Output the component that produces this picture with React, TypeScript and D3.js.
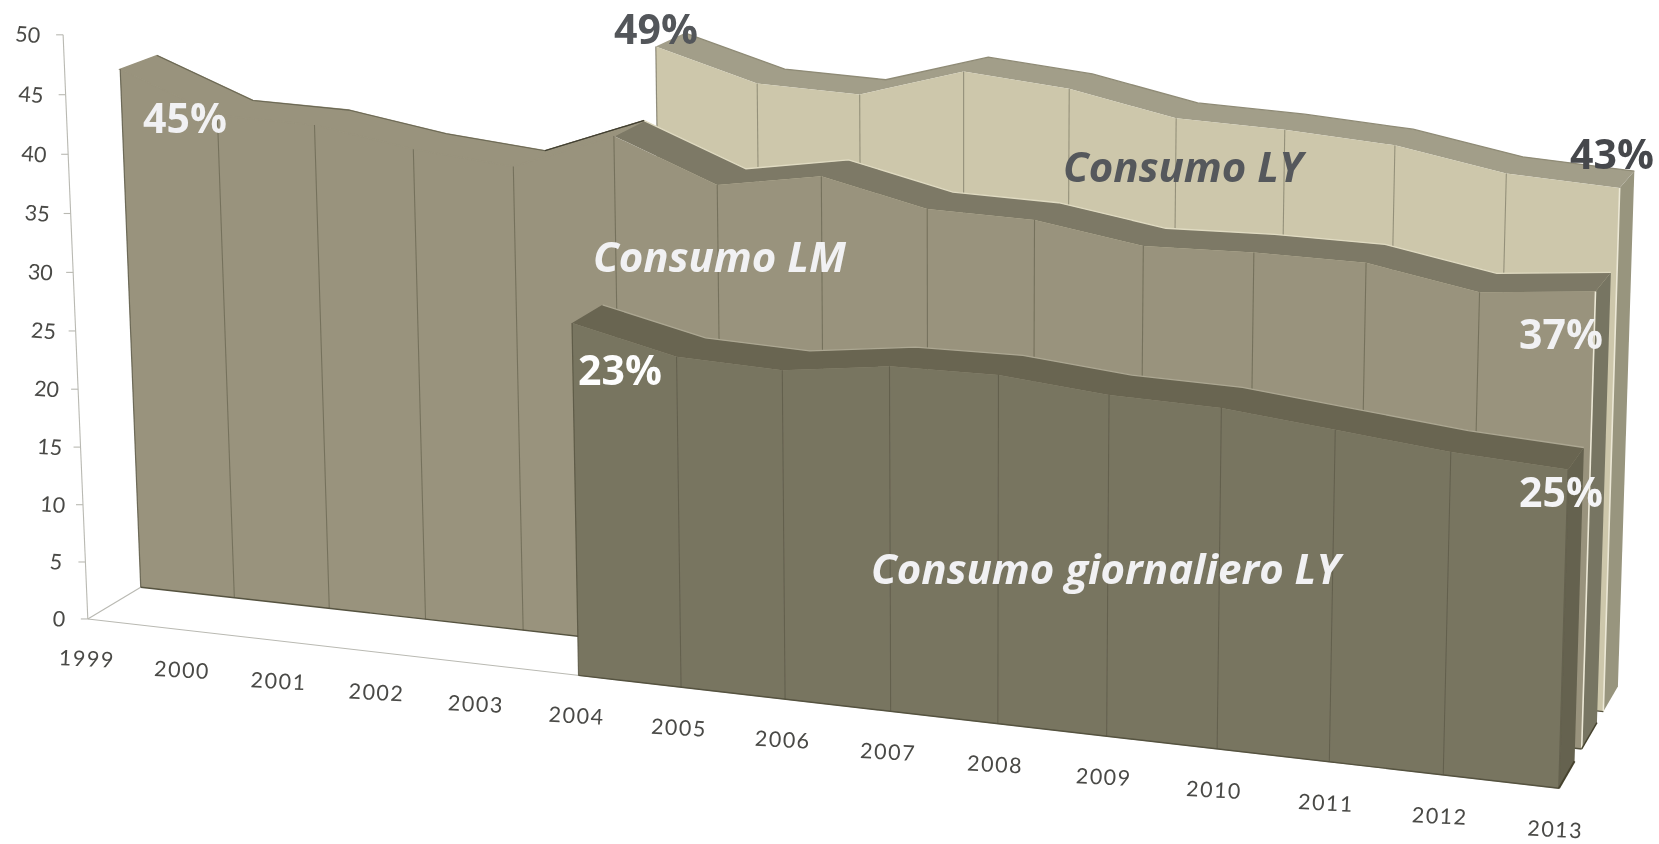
import React from "react";
import * as d3 from "d3";

// ---------- data ----------
const years = [1999, 2000, 2001, 2002, 2003, 2004, 2005, 2006, 2007, 2008, 2009, 2010, 2011, 2012, 2013];
const yTicks = [0, 5, 10, 15, 20, 25, 30, 35, 40, 45, 50];

const yearsLY = years.slice(5);
const valuesLY = [48.6, 46.1, 45.8, 48.3, 47.5, 45.7, 45.4, 44.8, 43.2, 42.7];

const yearsLM = years;
const valuesLM = [45.4, 42.1, 41.9, 40.5, 39.7, 42.9, 39.5, 40.9, 38.9, 38.7, 37.3, 37.5, 37.4, 35.8, 36.6];

const yearsGiornaliero = years.slice(5);
const valuesGiornaliero = [29.5, 27.5, 27.2, 28.3, 28.4, 27.6, 27.4, 26.5, 25.6, 25.1];

const percentLabels = ["49%", "43%", "45%", "37%", "23%", "25%"];
const seriesNames = ["Consumo LY", "Consumo LM", "Consumo giornaliero LY"];

// ---------- 3D projection (year, value, depth) -> screen ----------
const W = 1659;
const H = 844;
const K = W / 1568;
const yearIndex = d3.scaleLinear().domain([1999, 2013]).range([0, 14]);

function project(year: number, value: number, depth: number): [number, number] {
  const X = yearIndex(year);
  const w = 1 - 0.00707 * X - 0.00055 * value + 0.0225 * depth;
  const sx = (83 + 88.9 * X - 0.5 * value + 53 * depth) / w;
  const sy = (585 + 6.16 * X - 11.06 * value - 17.5 * depth) / w;
  return [sx * K, sy * K];
}

const line = d3.line<[number, number]>();
const closed = (pts: [number, number][]) => line(pts) + "Z";

type Layer = {
  xs: number[];
  vs: number[];
  z0: number;
  z1: number;
  face: string;
  ribbon: string;
  side: string;
  grid: string;
  ribbonFrom: number;
  edge: string;
  back: string;
};

const layers: Layer[] = [
  { xs: yearsLY, vs: valuesLY, z0: 2, z1: 2.7, face: "#cdc7ab", ribbon: "#a29e89", side: "#98957e", grid: "#7d7a66", ribbonFrom: 2004, edge: "#ece8d6", back: "#8f8b76" },
  { xs: yearsLM, vs: valuesLM, z0: 1, z1: 1.7, face: "#99937d", ribbon: "#7d7966", side: "#777562", grid: "#66634f", ribbonFrom: 2004, edge: "#ece8d6", back: "#e0dbc2" },
  { xs: yearsGiornaliero, vs: valuesGiornaliero, z0: 0, z1: 0.68, face: "#787561", ribbon: "#696551", side: "#65624f", grid: "#5b5846", ribbonFrom: 2004, edge: "#65624f", back: "#aca792" },
];

function LayerView({ l, idx }: { l: Layer; idx: number }) {
  const n = l.xs.length;
  const first = l.xs[0];
  const last = l.xs[n - 1];
  const lastV = l.vs[n - 1];
  const frontTop = l.xs.map((x, i) => project(x, l.vs[i], l.z0));
  const backTop = l.xs.map((x, i) => project(x, l.vs[i], l.z1));
  const rib = l.xs.map((x, i) => i).filter((i) => l.xs[i] >= l.ribbonFrom);
  const early = l.xs.map((x, i) => i).filter((i) => l.xs[i] <= l.ribbonFrom);
  const late = l.xs.map((x, i) => i).filter((i) => l.xs[i] >= 2003 && l.xs[i] <= l.ribbonFrom);
  return (
    <g>
      {/* right side */}
      <path
        d={closed([project(last, 0, l.z0), project(last, lastV, l.z0), project(last, lastV, l.z1), project(last, 0, l.z1)])}
        fill={l.side}
      />
      {/* top surface */}
      <path d={closed([...rib.map((i) => frontTop[i]), ...rib.slice().reverse().map((i) => backTop[i])])} fill={l.ribbon} />
      {/* back highlight */}
      <path d={line(rib.map((i) => backTop[i]))!} fill="none" stroke={l.back} strokeWidth={1.3} />
      {/* front face */}
      <path d={closed([project(first, 0, l.z0), ...frontTop, project(last, 0, l.z0)])} fill={l.face} />
      {/* early part of the top surface, same tone as the face */}
      {early.length > 1 && (
        <path
          d={closed([...early.map((i) => frontTop[i]), ...early.slice().reverse().map((i) => backTop[i])])}
          fill={l.face}
          stroke={l.face}
          strokeWidth={1.5}
        />
      )}
      {early.length > 1 && <path d={line(early.map((i) => backTop[i]))!} fill="none" stroke="#6b6854" strokeWidth={1.1} />}
      {late.length > 1 && <path d={line(late.map((i) => backTop[i]))!} fill="none" stroke="#3f3d30" strokeWidth={1.2} />}
      {/* column lines */}
      {l.xs.map((x, i) => {
        if (i === n - 1) return null;
        if (i === 0) return <path key={x} d={line([project(x, 0, l.z0), frontTop[i]])!} stroke="#55523f" strokeWidth={1.2} opacity={idx === 0 ? 0.6 : 0.8} />;
        return <path key={x} d={line([project(x, 0, l.z0), frontTop[i]])!} stroke={l.grid} strokeWidth={1.1} opacity={0.7} />;
      })}
      {/* right edge sliver */}
      <path d={line([project(last, 0, l.z0), frontTop[n - 1]])!} stroke={l.edge} strokeWidth={1.6} />
      {/* floor edge */}
      <path d={line([project(first, 0, l.z0), project(last, 0, l.z0)])!} stroke="#55523f" strokeWidth={1.4} />
      {idx === 2 && <path d={line([project(last, 0, l.z0), project(last, 0, l.z1)])!} stroke="#46432f" strokeWidth={2} />}
      {idx === 1 && <path d={line([project(last, 0, l.z0), project(last, 0, l.z1)])!} stroke="#46432f" strokeWidth={1.5} />}
    </g>
  );
}

const sansBold: React.CSSProperties = { fontFamily: "'Open Sans', sans-serif", fontWeight: 700 };

export default function App() {
  const y0 = 1999;
  return (
    <svg width={W} height={H} viewBox={`0 0 ${W} ${H}`} style={{ position: "absolute", left: 0, top: 0, background: "#fff" }}>
      <defs>
        <filter id="soft" filterUnits="userSpaceOnUse" x="0" y="0" width={W} height={H}>
          <feGaussianBlur stdDeviation="0.6" />
        </filter>
        <filter id="softer" filterUnits="userSpaceOnUse" x="0" y="0" width={W} height={H}>
          <feGaussianBlur stdDeviation="0.35" />
        </filter>
      </defs>
      {/* axes */}
      <g stroke="#b9b9b2" fill="none" strokeWidth={1.1}>
        <path d={line([project(y0, 0, 0), project(y0, 50, 0)])!} />
        <path d={line([project(y0, 0, 0), project(2013, 0, 0)])!} />
        <path d={line([project(y0, 0, 0), project(y0, 0, 1)])!} />
        {yTicks.map((t) => {
          const p = project(y0, t, 0);
          return <path key={t} d={line([[p[0] - 7, p[1]], p])!} />;
        })}
      </g>
      <g filter="url(#softer)">
        {yTicks.map((t) => {
          const p = project(y0, t, 0);
          const tx = p[0] - 29 - t * 0.13;
          const ty = p[1] + 2;
          return (
            <text key={t} x={tx} y={ty} textAnchor="middle" dominantBaseline="middle" fontFamily="Lato, sans-serif" fontWeight={400} fontSize={21.5} fill="#4a4a46" transform={`rotate(4 ${tx} ${ty})`}>
              {t}
            </text>
          );
        })}
        {years.map((y) => {
          const p = project(y, 0, 0);
          const tx = p[0] - 1 - yearIndex(y) * 0.2;
          const ty = p[1] + 42 + yearIndex(y) * 0.1;
          return (
            <text key={y} x={tx} y={ty} textAnchor="middle" dominantBaseline="middle" fontFamily="Lato, sans-serif" fontWeight={400} fontSize={21.5} letterSpacing={1.5} fill="#4a4a46" transform={`rotate(3 ${tx} ${ty})`}>
              {y}
            </text>
          );
        })}
      </g>

      <g filter="url(#soft)">
        {layers.map((l, i) => (
          <LayerView key={i} l={l} idx={i} />
        ))}
      </g>

      {/* percentage labels */}
      <g style={sansBold} fontSize={41} textAnchor="middle" dominantBaseline="middle">
        <text x={656} y={33} fill="#53565a">{percentLabels[0]}</text>
        <text x={1612} y={158} fill="#46484c">{percentLabels[1]}</text>
        <text x={185} y={122} fill="#f1f1f3">{percentLabels[2]}</text>
        <text x={1561} y={338} fill="#f1f1f3">{percentLabels[3]}</text>
        <text x={620} y={374} fill="#fdfdfd">{percentLabels[4]}</text>
        <text x={1561} y={496} fill="#f4f4f6">{percentLabels[5]}</text>
      </g>
      <g style={sansBold} fontStyle="italic" fontSize={42} dominantBaseline="middle">
        <text x={1063} y={171} fill="#55585c">{seriesNames[0]}</text>
        <text x={593} y={261} fill="#f1f1f3">{seriesNames[1]}</text>
        <text x={871} y={573} fill="#f1f1f3">{seriesNames[2]}</text>
      </g>
    </svg>
  );
}
